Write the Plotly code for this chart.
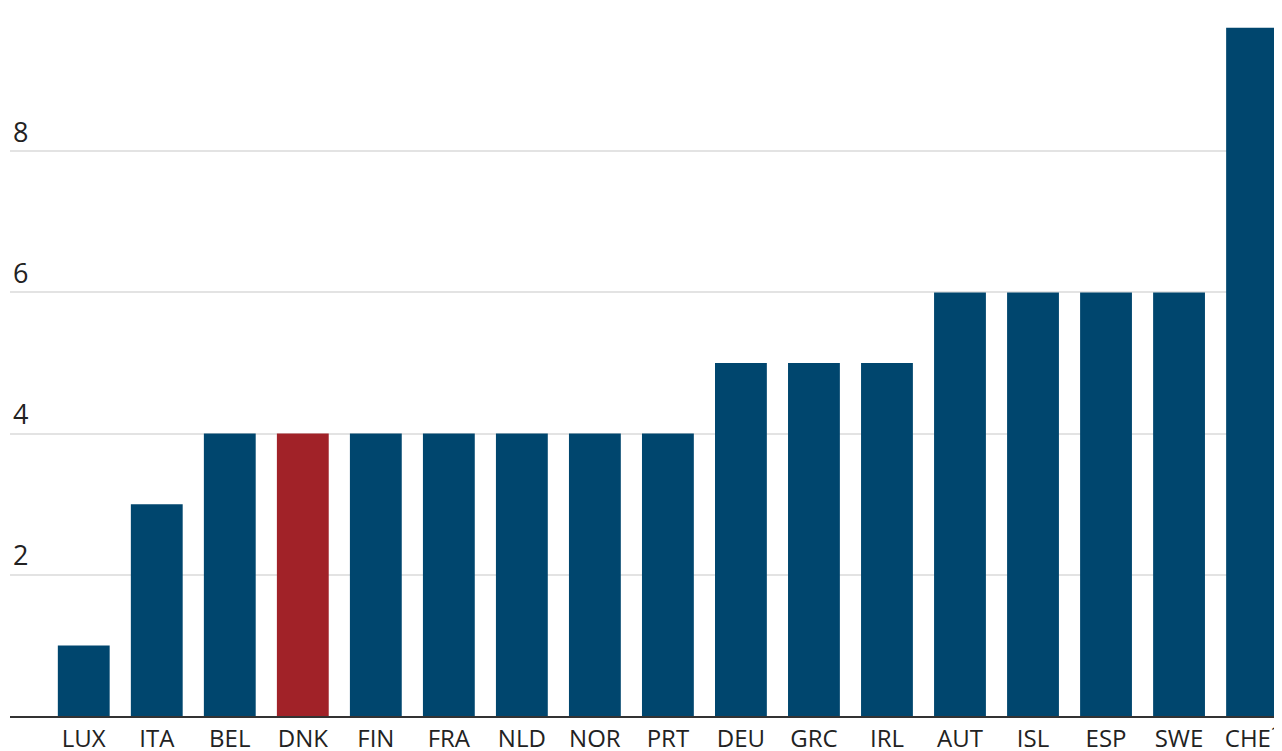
import plotly.graph_objects as go

countries = ["LUX", "ITA", "BEL", "DNK", "FIN", "FRA", "NLD", "NOR", "PRT",
             "DEU", "GRC", "IRL", "AUT", "ISL", "ESP", "SWE", "CHE¹"]
weeks = [1, 3, 4, 4, 4, 4, 4, 4, 4, 5, 5, 5, 6, 6, 6, 6, 9.75]
highlight = "DNK"

tick_vals = [0, 2, 4, 6, 8, 10]
tick_text = ["", "2", "4", "6", "8", "10 weeks"]

blue = "#00466e"
red = "#a12228"
colors = [red if c == highlight else blue for c in countries]

fig = go.Figure(go.Bar(
    x=countries, y=weeks, marker=dict(color=colors, line=dict(width=0)),
    width=0.71, hoverinfo="x+y"))

fig.update_layout(
    width=1282, height=751,
    margin=dict(l=2, r=8, t=2, b=43, autoexpand=False),
    plot_bgcolor="white", paper_bgcolor="white",
    font=dict(family="Open Sans, Noto Sans, sans-serif", size=25, color="#222222"),
    showlegend=False,
    bargap=0.29,
)
fig.update_xaxes(
    range=[-1.01, 16.41], showgrid=False, showline=True, linecolor="#333333",
    linewidth=2, ticks="", tickfont=dict(size=24, color="#222222"),
    ticklabelstandoff=0, fixedrange=True)
fig.update_yaxes(
    range=[0, 10], tickvals=tick_vals, ticktext=tick_text,
    ticklabelposition="inside top", showgrid=True, gridcolor="#e3e3e3",
    gridwidth=1.5, zeroline=False, showline=False, ticks="",
    tickfont=dict(size=27, color="#222222"), fixedrange=True)

fig.write_html("out.html")
